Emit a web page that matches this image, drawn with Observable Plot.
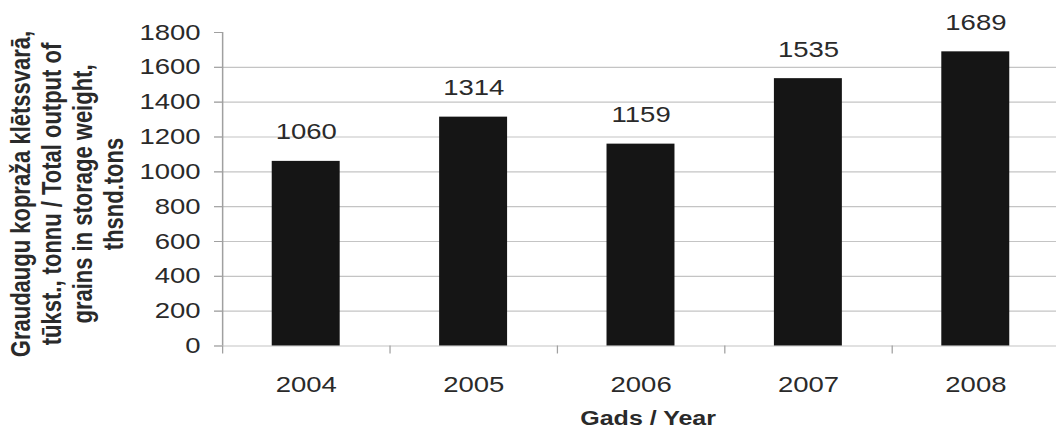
<!DOCTYPE html>
<html><head><meta charset="utf-8">
<script src="https://cdn.jsdelivr.net/npm/d3@7"></script>
<script src="https://cdn.jsdelivr.net/npm/@observablehq/plot@0.6"></script>
<style>
html,body{margin:0;padding:0;background:#fff;overflow:hidden}
#chart svg{transform:scaleX(1.25);transform-origin:0 0;display:block}
</style>
</head><body><div id="chart"></div>
<script>
const years = [2004, 2005, 2006, 2007, 2008];
const values = [1060, 1314, 1159, 1535, 1689];
const yTicks = [0, 200, 400, 600, 800, 1000, 1200, 1400, 1600, 1800];
const gridValues = [0, 200, 400, 600, 800, 1000, 1200, 1400, 1600];
const yLabel = "Graudaugu kopraža klētssvarā,\ntūkst., tonnu / Total output of\ngrains in storage weight,\nthsnd.tons";
const xLabel = "Gads / Year";

const data = years.map((year, i) => ({year, value: values[i]}));
const boundaries = years.map(y => y - 0.5).concat([years[years.length - 1] + 0.5]);

const SX = 1.25;            // horizontal stretch of the reference
const W = 1056 / SX;
const plot = Plot.plot({
  width: W, height: 435,
  marginLeft: 222 / SX, marginRight: W - 1059 / SX, marginTop: 32, marginBottom: 89.5,
  x: {type: "linear", domain: [boundaries[0], boundaries[boundaries.length - 1]]},
  y: {domain: [0, 1800]},
  style: {fontFamily: "'Liberation Sans', Arial, sans-serif", color: "#2a2a2a", background: "#fff", overflow: "visible"},
  marks: [
    Plot.ruleY(gridValues, {stroke: "#c4c4c4", strokeWidth: 1.2, insetLeft: -8 / SX}),
    Plot.ruleX([boundaries[0]], {y1: 0, y2: 1800, stroke: "#a0a0a0", strokeWidth: 1.2}),
    Plot.axisY({ticks: yTicks, tickSize: 8 / SX, tickPadding: 14 / SX, fontSize: 22, stroke: "#a0a0a0", fill: "#2a2a2a", tickFormat: "d", label: null}),
    Plot.axisX({ticks: boundaries, tickSize: 8, tickFormat: () => "", stroke: "#a0a0a0", label: null}),
    Plot.axisX({ticks: years, tickSize: 0, tickPadding: 30, fontSize: 22, fill: "#2a2a2a", tickFormat: d => String(d), label: null}),
    Plot.rect(data, {x1: d => d.year - 0.203, x2: d => d.year + 0.203, y1: 0, y2: "value", fill: "#151515"}),
    Plot.text(data, {x: "year", y: "value", text: d => String(d.value), dy: -29, fontSize: 22, fill: "#2a2a2a"}),
    Plot.text([yLabel], {frameAnchor: "left", dx: (66 - 222) / SX, dy: 4.75, rotate: -90, fontSize: 22, fontWeight: "bold", lineHeight: 1.13, fill: "#2a2a2a", textAnchor: "middle"}),
    Plot.text([xLabel], {frameAnchor: "bottom", dy: 79.5, dx: 5.6, fontSize: 20, fontWeight: "bold", fill: "#2a2a2a"})
  ]
});
document.getElementById("chart").appendChild(plot);
</script>
</body></html>
